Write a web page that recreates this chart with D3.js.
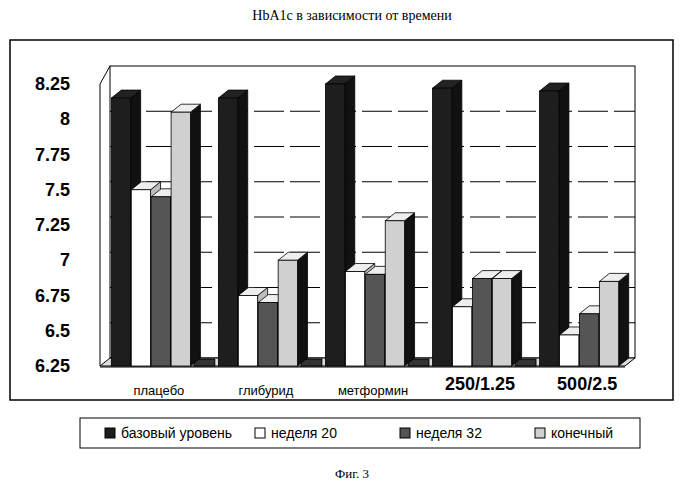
<!DOCTYPE html>
<html><head><meta charset="utf-8">
<script src="https://cdn.jsdelivr.net/npm/d3@7.9.0/dist/d3.min.js"></script>
<style>body{margin:0;background:#fff}</style>
</head><body>
<svg id="c" width="700" height="488"></svg>
<script>
const categories = ['плацебо', 'глибурид', 'метформин', '250/1.25', '500/2.5'];
const seriesNames = ['базовый уровень', 'неделя 20', 'неделя 32', 'конечный'];
const baseline = [8.15, 8.15, 8.25, 8.22, 8.2];
const week20 = [7.5, 6.75, 6.92, 6.67, 6.47];
const week32 = [7.45, 6.7, 6.9, 6.87, 6.62];
const finalV = [8.05, 7.0, 7.28, 6.87, 6.85];
const ticks = [6.25, 6.5, 6.75, 7, 7.25, 7.5, 7.75, 8, 8.25];
const series = [baseline, week20, week32, finalV];
const fills = ['#1e1e1e', '#ffffff', '#555', '#d0d0d0'];

const svg = d3.select('#c');
const dx = 10, dy = -8;
const L = 100, R = 625;
const x0 = d3.scaleBand().domain(categories).range([L, R + 5]).paddingInner(0.25).paddingOuter(0.1);
const x1 = d3.scaleBand().domain(d3.range(4)).range([0, x0.bandwidth()]).padding(0.03);
const y = d3.scaleLinear().domain([6.25, 8.25]).range([366, 84]);

svg.append('text').attr('x', 352).attr('y', 20).attr('text-anchor', 'middle')
  .attr('font-family', 'Liberation Serif').attr('font-size', 14).text('HbA1c в зависимости от времени');
svg.append('rect').attr('x', 10).attr('y', 40).attr('width', 663).attr('height', 360)
  .attr('fill', 'none').attr('stroke', '#000').attr('stroke-width', 1.5);

// back wall + grid
svg.append('rect').attr('x', L + dx).attr('y', y(8.25) + dy - 10).attr('width', R - L)
  .attr('height', y(6.25) - y(8.25) + 10).attr('fill', 'none').attr('stroke', '#000');
svg.append('line').attr('x1', L).attr('x2', L).attr('y1', y(8.25)).attr('y2', y(6.25)).attr('stroke', '#000');
svg.append('line').attr('x1', L).attr('x2', L + dx).attr('y1', y(8.25)).attr('y2', y(8.25) + dy - 10).attr('stroke', '#000');
ticks.slice(1, -1).forEach(t => {
  svg.append('line').attr('x1', L + dx).attr('x2', R + dx).attr('y1', y(t) + dy).attr('y2', y(t) + dy)
    .attr('stroke', '#000').attr('stroke-dasharray', '30,6');
});
ticks.forEach(t => {
  svg.append('text').attr('x', 70).attr('y', y(t) + 6).attr('text-anchor', 'end')
    .attr('font-family', 'Liberation Sans').attr('font-weight', 'bold').attr('font-size', 18).text(t);
});
// floor
svg.append('path').attr('d', `M${L},${y(6.25)}L${L + dx},${y(6.25) + dy}L${R + dx},${y(6.25) + dy}L${R},${y(6.25)}Z`)
  .attr('fill', '#ddd').attr('stroke', '#000');
// small dark floor blocks between groups
categories.slice(0, 4).forEach((c, i) => {
  const gx = x0(c) + x0.bandwidth() + 3;
  svg.append('rect').attr('x', gx).attr('y', y(6.25) - 7).attr('width', x0.step() - x0.bandwidth() - 6)
    .attr('height', 7).attr('fill', '#333').attr('stroke', '#000');
});
svg.append('line').attr('x1', L).attr('x2', R).attr('y1', y(6.25) + 1).attr('y2', y(6.25) + 1).attr('stroke', '#000');

// bars
categories.forEach((c, i) => {
  series.forEach((s, j) => {
    const bx = x0(c) + x1(j), w = x1.bandwidth(), top = y(s[i]), bot = y(6.25);
    const g = svg.append('g').attr('stroke', '#000').attr('stroke-width', 0.8);
    g.append('path').attr('d', `M${bx + w},${top}L${bx + w + dx},${top + dy}L${bx + w + dx},${bot + dy}L${bx + w},${bot}Z`)
      .attr('fill', j === 1 ? '#bbb' : '#111');
    g.append('path').attr('d', `M${bx},${top}L${bx + dx},${top + dy}L${bx + w + dx},${top + dy}L${bx + w},${top}Z`)
      .attr('fill', j === 0 ? '#222' : '#eee');
    g.append('rect').attr('x', bx).attr('y', top).attr('width', w).attr('height', bot - top).attr('fill', fills[j]);
  });
  const big = i >= 3;
  svg.append('text').attr('x', x0(c) + x0.bandwidth() / 2 + 8).attr('y', big ? 390 : 395).attr('text-anchor', 'middle')
    .attr('font-family', 'Liberation Sans').attr('font-weight', big ? 'bold' : 'normal')
    .attr('font-size', big ? 18 : 13).text(c);
});

// legend
svg.append('rect').attr('x', 80).attr('y', 418).attr('width', 560).attr('height', 30).attr('fill', 'none').attr('stroke', '#000');
const lx = [105, 255, 400, 535];
seriesNames.forEach((n, j) => {
  svg.append('rect').attr('x', lx[j]).attr('y', 428).attr('width', 10).attr('height', 10)
    .attr('fill', fills[j]).attr('stroke', '#000');
  svg.append('text').attr('x', lx[j] + 16).attr('y', 438).attr('font-family', 'Liberation Sans')
    .attr('font-size', 14).text(n);
});
svg.append('text').attr('x', 352).attr('y', 478).attr('text-anchor', 'middle')
  .attr('font-family', 'Liberation Serif').attr('font-size', 13).text('Фиг. 3');
</script>
</body></html>
